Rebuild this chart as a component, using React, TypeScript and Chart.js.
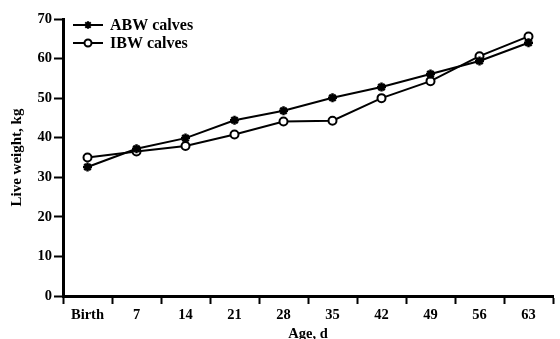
import React, { useEffect, useRef } from "react";
import { Chart, registerables } from "chart.js";

Chart.register(...registerables);

const categories = ["Birth", "7", "14", "21", "28", "35", "42", "49", "56", "63"];
const abwValues = [32.6, 37.2, 39.9, 44.4, 46.8, 50.1, 52.8, 56.1, 59.4, 64.0];
const ibwValues = [35.0, 36.5, 37.9, 40.8, 44.1, 44.3, 50.0, 54.3, 60.6, 65.6];
const seriesNames = ["ABW calves", "IBW calves"];
const yTicks = [0, 10, 20, 30, 40, 50, 60, 70];

const FONT = "'Liberation Serif', 'Times New Roman', serif";

function drawStar(ctx: CanvasRenderingContext2D, x: number, y: number, r: number) {
  ctx.beginPath();
  for (let i = 0; i < 4; i++) {
    const a = (Math.PI / 4) * i;
    ctx.moveTo(x - Math.cos(a) * r, y - Math.sin(a) * r);
    ctx.lineTo(x + Math.cos(a) * r, y + Math.sin(a) * r);
  }
  ctx.stroke();
  ctx.beginPath();
  ctx.arc(x, y, r * 0.6, 0, Math.PI * 2);
  ctx.fill();
}

const legendPlugin = {
  id: "customLegend",
  afterDraw(chart: any) {
    const ctx: CanvasRenderingContext2D = chart.ctx;
    const area = chart.chartArea;
    const x0 = area.left + 10;
    const x1 = area.left + 40;
    const xm = (x0 + x1) / 2;
    const ys = [area.top + 6, area.top + 24];
    ctx.save();
    ctx.strokeStyle = "#000";
    ctx.fillStyle = "#000";
    ctx.lineWidth = 2;
    ys.forEach((y, i) => {
      ctx.beginPath();
      ctx.moveTo(x0, y);
      ctx.lineTo(x1, y);
      ctx.stroke();
      if (i === 0) {
        drawStar(ctx, xm, y, 3.8);
      } else {
        ctx.beginPath();
        ctx.arc(xm, y, 3.5, 0, Math.PI * 2);
        ctx.fillStyle = "#fff";
        ctx.fill();
        ctx.stroke();
        ctx.fillStyle = "#000";
      }
      ctx.font = `bold 16px ${FONT}`;
      ctx.textBaseline = "middle";
      ctx.textAlign = "left";
      ctx.fillText(seriesNames[i], x1 + 7, y + 1);
    });
    ctx.restore();
  },
};

export default function App() {
  const ref = useRef<HTMLCanvasElement | null>(null);

  useEffect(() => {
    if (!ref.current) return;
    const chart = new Chart(ref.current, {
      type: "line",
      data: {
        labels: categories,
        datasets: [
          {
            label: seriesNames[0],
            data: abwValues,
            borderColor: "#000",
            backgroundColor: "#000",
            borderWidth: 2,
            pointStyle: "star",
            pointRadius: 4.5,
            pointBorderWidth: 2.5,
            pointBorderColor: "#000",
            pointBackgroundColor: "#000",
            tension: 0,
          },
          {
            label: seriesNames[1],
            data: ibwValues,
            borderColor: "#000",
            backgroundColor: "#fff",
            borderWidth: 2,
            pointStyle: "circle",
            pointRadius: 4,
            pointBorderWidth: 2,
            pointBorderColor: "#000",
            pointBackgroundColor: "#fff",
            tension: 0,
          },
        ],
      },
      options: {
        animation: false,
        responsive: false,
        maintainAspectRatio: false,
        devicePixelRatio: 1,
        layout: { padding: { top: 19, right: 2, left: 0, bottom: 0 } },
        plugins: {
          legend: { display: false },
          tooltip: { enabled: false },
        },
        scales: {
          x: {
            type: "category",
            offset: true,
            grid: {
              offset: true,
              drawOnChartArea: false,
              drawTicks: true,
              tickLength: 8,
              tickWidth: 2,
              color: "#000",
            },
            border: { display: true, color: "#000", width: 3 },
            ticks: {
              color: "#000",
              padding: 3,
              font: { family: FONT, size: 14.5, weight: "bold" },
              maxRotation: 0,
              autoSkip: false,
            },
            title: {
              display: true,
              text: "Age, d",
              color: "#000",
              font: { family: FONT, size: 14.5, weight: "bold" },
              padding: { top: 0, bottom: -4 },
            },
            afterFit(scale: any) {
              scale.height = 43;
            },
          },
          y: {
            min: 0,
            max: 70,
            afterBuildTicks(scale: any) {
              scale.ticks = yTicks.map((v) => ({ value: v }));
            },
            grid: {
              drawOnChartArea: false,
              drawTicks: true,
              tickLength: 9,
              tickWidth: 2,
              color: "#000",
            },
            border: { display: true, color: "#000", width: 3 },
            ticks: {
              color: "#000",
              padding: 2,
              font: { family: FONT, size: 14.5, weight: "bold" },
            },
            title: {
              display: true,
              text: "Live weight, kg",
              color: "#000",
              font: { family: FONT, size: 15, weight: "bold" },
              padding: { top: 8, bottom: 0 },
            },
            afterFit(scale: any) {
              scale.width = 63;
            },
          },
        },
      },
      plugins: [legendPlugin],
    } as any);
    return () => chart.destroy();
  }, []);

  return (
    <div style={{ position: "fixed", left: 0, top: 0, width: 560, height: 339, background: "#fff" }}>
      <canvas ref={ref} width={560} height={339} style={{ width: 560, height: 339 }} />
    </div>
  );
}
